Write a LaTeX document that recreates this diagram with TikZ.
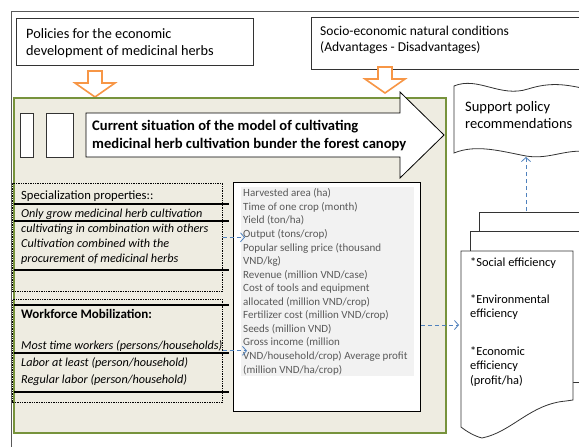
\documentclass[tikz,border=0pt]{standalone}
\usepackage{fontspec}
\setmainfont{Carlito}
\usetikzlibrary{positioning,arrows.meta}

\definecolor{herbgreen}{HTML}{77933C}
\definecolor{herbbeige}{HTML}{EEECE1}
\definecolor{herborange}{HTML}{F79646}
\definecolor{herbblue}{HTML}{4F81BD}
\definecolor{herbgray}{HTML}{595959}
\definecolor{herbpanel}{HTML}{F2F2F2}

\tikzset{
  plainbox/.style={draw=black!80, fill=white, line width=0.8pt},
  dotbox/.style={draw=black, dash pattern=on 1.4pt off 1pt, line width=0.6pt},
  rowline/.style={line width=1.5pt},
  linetext/.style={anchor=base west, inner sep=0pt, align=left},
  bluelink/.style={-{Straight Barb[length=4pt,width=9pt]}, dash pattern=on 4pt off 3pt, herbblue, line width=0.8pt},
  hollowdown/.style={draw=herborange, fill=white, line width=1.6pt, line join=miter}
}

\begin{document}
\begin{tikzpicture}[x=1pt,y=-1pt]
    \clip (0,0) rectangle (579,447);
    \fill[white] (0,0) rectangle (579,447);

    %% Outer frame
    \draw[black!65, line width=0.9pt] (11,450) -- (11,11) -- (585,11);

    % Input boxes (multi-line texts sit on the baseline of their last line)
    \node (policy) [plainbox, anchor=north west, minimum width=237pt, minimum height=47pt] at (16,18) {};
    \node (policytext) [linetext, font=\fontsize{14.3}{17}\selectfont] at (26,55)
        {Policies for the economic\\development of medicinal herbs};
    \node (socio) [plainbox, anchor=north west, minimum width=280pt, minimum height=52pt] at (311,17) {};
    \node (sociotext) [linetext, font=\fontsize{13.5}{17}\selectfont] at (320,52)
        {Socio-economic natural conditions\\(Advantages - Disadvantages)};

    % Hollow orange arrows
    \foreach \ax/\ay in {95/71, 385/67}
      \draw[hollowdown] (\ax-7,\ay) -- (\ax+7,\ay) -- (\ax+7,\ay+12) -- (\ax+20,\ay+12)
        -- (\ax,\ay+26) -- (\ax-20,\ay+12) -- (\ax-7,\ay+12) -- cycle;

    %% Current situation panel
    \node (situation) [draw=herbgreen, fill=herbbeige, line width=2pt, anchor=north west,
        minimum width=432pt, minimum height=335pt] at (13,97) {};
    \node (markA) [plainbox, anchor=north west, minimum width=13pt, minimum height=44pt] at (20,113) {};
    \node (markB) [plainbox, anchor=north west, minimum width=27pt, minimum height=44pt] at (46,113) {};
    \draw[plainbox, draw=black] (86,113) -- (400,113) -- (400,92) -- (444,135) -- (400,178)
        -- (400,157) -- (86,157) -- cycle;
    \node (title) [linetext, font=\fontsize{14.6}{18}\selectfont\bfseries] at (92,148)
        {Current situation of the model of cultivating\\medicinal herb cultivation bunder the forest canopy};

    % Specialization block
    \node (spec) [dotbox, anchor=north west, minimum width=210pt, minimum height=108pt] at (12,183) {};
    \foreach \ly in {204, 221, 270}
      \draw[rowline] (14,\ly) -- (229,\ly);
    \node (spectitle) [linetext, font=\fontsize{12.6}{15}\selectfont] at (21,199) {Specialization properties::};
    \node (specitems) [linetext, font=\fontsize{12.2}{15}\selectfont\itshape] at (21,262)
        {Only grow medicinal herb cultivation\\cultivating in combination with others\\Cultivation combined with the\\procurement of medicinal herbs};

    % Workforce block
    \node (work) [dotbox, anchor=north west, minimum width=210pt, minimum height=103pt] at (12,299) {};
    \foreach \ly in {305, 353, 392}
      \draw[rowline] (14,\ly) -- (229,\ly);
    \node (worktitle) [linetext, font=\fontsize{13}{15}\selectfont\bfseries] at (21,318) {Workforce Mobilization:};
    \node (workitems) [linetext, font=\fontsize{12.2}{17}\selectfont\itshape] at (21,383)
        {Most time workers (persons/households)\\Labor at least (person/household)\\Regular labor (person/household)};

    % Indicator list
    \node (indicators) [plainbox, draw=black, anchor=north west, minimum width=187pt, minimum height=229pt] at (233,182) {};
    \node (panel) [fill=herbpanel, anchor=north west, minimum width=173pt, minimum height=189pt, inner sep=0pt] at (241,187) {};
    \node (indtext) [linetext, text=herbgray, font=\fontsize{11}{13.55}\selectfont] at (243,373)
        {Harvested area (ha)\\Time of one crop (month)\\Yield (ton/ha)\\Output (tons/crop)\\
         Popular selling price (thousand\\VND/kg)\\Revenue (million VND/case)\\
         Cost of tools and equipment\\allocated (million VND/crop)\\Fertilizer cost (million VND/crop)\\
         Seeds (million VND)\\Gross income (million\\VND/household/crop) Average profit\\(million VND/ha/crop)};

    %% Support policy recommendations (wavy sheet)
    \draw[plainbox] (454,86) .. controls (478,76) and (500,98) .. (528,89)
        .. controls (550,82) and (566,84) .. (590,90) -- (590,152)
        .. controls (566,148) and (550,160) .. (526,156)
        .. controls (500,151) and (476,144) .. (454,153) -- cycle;
    \node (support) [linetext, font=\fontsize{14.5}{16.5}\selectfont] at (465,128)
        {Support policy\\recommendations};
    \coordinate (supportbase) at (526,157);

    %% Efficiency sheets
    \draw[black!80, line width=0.8pt] (479,231) -- (479,212) -- (590,212);
    \draw[black!80, line width=0.8pt] (470,251) -- (470,231) -- (590,231);
    \draw[black!80, line width=0.8pt] (573,382) -- (590,382);
    \draw[plainbox] (461,251) -- (573,251) -- (573,400) -- (566,401)
        .. controls (530,404) and (512,432) .. (482,438)
        .. controls (474,436) and (466,431) .. (461,427) -- cycle;
    \node (effects) [linetext, font=\fontsize{12.4}{14.5}\selectfont] at (470,384)
        {*Social efficiency\\[22pt]*Environmental\\efficiency\\[23pt]*Economic\\efficiency\\(profit/ha)};
    \coordinate (effin) at (459,325);
    \coordinate (effout) at (526,211);

    % Dashed connectors
    \draw[bluelink] (spec.east) -- ([xshift=4pt]panel.west |- spec.east);
    \draw[bluelink] (work.east) -- ([xshift=6pt]panel.west |- work.east);
    \draw[bluelink] (indicators.east |- effin) -- (effin);
    \draw[bluelink] (effout) -- (supportbase);

\end{tikzpicture}
\end{document}
